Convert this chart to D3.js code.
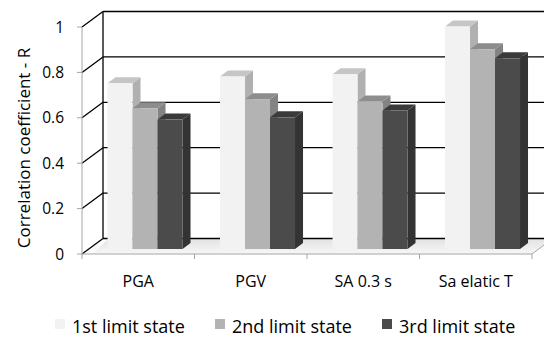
<!DOCTYPE html>
<html><head><meta charset="utf-8">
<script src="https://cdn.jsdelivr.net/npm/d3@7"></script>
<style>body{margin:0;background:#fff}svg{display:block}text{font-family:"Open Sans",sans-serif;fill:#000}</style>
</head><body><svg id="c" width="544" height="338"></svg>
<script>
const categories = ["PGA", "PGV", "SA 0.3 s", "Sa elatic T"];
const seriesNames = ["1st limit state", "2nd limit state", "3rd limit state"];
const limit1 = [0.73, 0.76, 0.77, 0.98];
const limit2 = [0.62, 0.66, 0.65, 0.88];
const limit3 = [0.57, 0.58, 0.61, 0.84];
const yTicks = [0, 0.2, 0.4, 0.6, 0.8, 1];
const yTickLabels = ["0", "0.2", "0.4", "0.6", "0.8", "1"];

const seriesValues = [limit1, limit2, limit3];
const faceColors = [
  {front: "#f2f2f2", top: "#c6c6c6", side: "#b0b0b0"},
  {front: "#b3b3b3", top: "#8d8d8d", side: "#838383"},
  {front: "#4b4b4b", top: "#3a3a3a", side: "#333333"}
];

const svg = d3.select("#c");
const DX = 21, DY = -15.5;
const x0 = d3.scaleBand().domain(categories).range([82, 532]).padding(0);
const step = x0.step();
const x1 = d3.scaleBand().domain(seriesNames).range([step / 6, 5 * step / 6]).padding(0);
const y = d3.scaleLinear().domain([0, 1]).range([254, 27]);

const defs = svg.append("defs");
const g1 = defs.append("linearGradient").attr("id", "floorG").attr("x1", 0).attr("y1", 0).attr("x2", 0).attr("y2", 1);
g1.append("stop").attr("offset", "0%").attr("stop-color", "#e2e2e2");
g1.append("stop").attr("offset", "100%").attr("stop-color", "#f7f7f7");

// floor
const fx = 82, fxr = 532, fy = y(0);
svg.append("path")
  .attr("d", `M${fx},${fy}L${fxr},${fy}L${fxr + DX},${fy + DY}L${fx + DX},${fy + DY}Z`)
  .attr("fill", "url(#floorG)");
svg.append("path").attr("d", `M${fx},${fy}L${fx+10},${fy}L${fx+DX+6},${fy+DY}L${fx+DX},${fy+DY}Z`).attr("fill", "#fbfbfb");

// back wall gridlines
yTicks.forEach(t => {
  svg.append("line").attr("x1", fx + DX).attr("x2", 600)
    .attr("y1", y(t) + DY).attr("y2", y(t) + DY)
    .attr("stroke", "#000").attr("stroke-width", 1.3);
  svg.append("line").attr("x1", fx).attr("y1", y(t)).attr("x2", fx + DX).attr("y2", y(t) + DY)
    .attr("stroke", "#000").attr("stroke-width", 1.3);
});
svg.append("line").attr("x1", fx + DX).attr("x2", fx + DX)
  .attr("y1", y(1) + DY).attr("y2", y(0) + DY).attr("stroke", "#000").attr("stroke-width", 1.3);

// floor front edge and right edge
svg.append("line").attr("x1", fx).attr("x2", fxr).attr("y1", fy).attr("y2", fy).attr("stroke", "#a6a6a6");
svg.append("line").attr("x1", fxr).attr("x2", fxr + DX).attr("y1", fy).attr("y2", fy + DY).attr("stroke", "#a6a6a6");
categories.concat(["end"]).forEach((c, i) => {
  const xx = fx + i * step;
  svg.append("line").attr("x1", xx).attr("x2", xx).attr("y1", fy).attr("y2", fy + 5).attr("stroke", "#a6a6a6");
});

// front value axis
svg.append("line").attr("x1", fx).attr("x2", fx).attr("y1", y(1)).attr("y2", y(0)).attr("stroke", "#a6a6a6");
yTicks.forEach((t, i) => {
  svg.append("line").attr("x1", fx - 5).attr("x2", fx).attr("y1", y(t)).attr("y2", y(t)).attr("stroke", "#a6a6a6");
  svg.append("text").attr("x", 64).attr("y", y(t)).attr("dy", "0.36em")
    .attr("text-anchor", "end").attr("font-size", 15.5).text(yTickLabels[i]);
});

// bars
const f1 = 5 / 15.5;
const ox = DX * f1, oy = DY * f1;
const bdx = 8, bdy = -6;
categories.forEach((c, ci) => {
  seriesNames.forEach((s, si) => {
    const v = seriesValues[si][ci];
    const xl = x0(c) + x1(s) + ox;
    const w = x1.bandwidth();
    const yb = y(0) + oy, yt = y(v) + oy;
    const col = faceColors[si];
    svg.append("path").attr("d", `M${xl+w},${yb}L${xl+w+bdx},${yb+bdy}L${xl+w+bdx},${yt+bdy}L${xl+w},${yt}Z`).attr("fill", col.side);
    svg.append("path").attr("d", `M${xl},${yt}L${xl+bdx},${yt+bdy}L${xl+w+bdx},${yt+bdy}L${xl+w},${yt}Z`).attr("fill", col.top);
    svg.append("rect").attr("x", xl).attr("y", yt).attr("width", w).attr("height", yb - yt).attr("fill", col.front);
  });
});

// category labels
categories.forEach(c => {
  svg.append("text").attr("x", x0(c) + step / 2).attr("y", 287)
    .attr("text-anchor", "middle").attr("font-size", 16).text(c);
});

// y title
svg.append("text").attr("transform", "translate(30,148) rotate(-90)")
  .attr("text-anchor", "middle").attr("font-size", 17).text("Correlation coefficient - R");

// legend
const legX = [55, 215, 382];
seriesNames.forEach((s, i) => {
  svg.append("rect").attr("x", legX[i]).attr("y", 319).attr("width", 10).attr("height", 10).attr("fill", faceColors[i].front);
  svg.append("text").attr("x", legX[i] + 17).attr("y", 333).attr("font-size", 18).text(s);
});
</script></body></html>
